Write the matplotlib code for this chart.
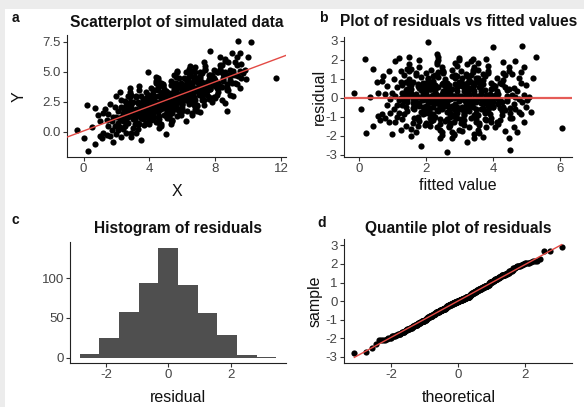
import numpy as np
import matplotlib
matplotlib.use("Agg")
import matplotlib.pyplot as plt
from matplotlib.patches import Rectangle
from statistics import NormalDist

# ---------------------------------------------------------------- data
sim_x = [
    -0.4,
    0.0, 0.2, 0.3, 0.5, 0.7, 0.7,
    0.9, 1.0, 1.0, 1.1, 1.2, 1.2, 1.3, 1.4, 1.4, 1.5, 1.5, 1.6, 1.6, 1.7, 1.7,
    1.8, 1.8, 1.9, 1.9, 2.0, 2.0, 2.0, 2.1, 2.1, 2.1, 2.2, 2.2, 2.2,
    2.3, 2.3, 2.3, 2.3, 2.4, 2.4, 2.4, 2.4, 2.5, 2.5, 2.5, 2.5,
    2.6, 2.6, 2.6, 2.6, 2.7, 2.7, 2.7, 2.7, 2.7, 2.7,
    2.8, 2.8, 2.8, 2.8, 2.8, 2.8,
    2.9, 2.9, 2.9, 2.9, 2.9, 2.9,
    3.0, 3.0, 3.0, 3.0, 3.0, 3.0,
    3.1, 3.1, 3.1, 3.1, 3.1, 3.1,
    3.2, 3.2, 3.2, 3.2, 3.2, 3.2,
    3.3, 3.3, 3.3, 3.3, 3.3, 3.3,
    3.4, 3.4, 3.4, 3.4, 3.4, 3.4,
    3.5, 3.5, 3.5, 3.5, 3.5, 3.5,
    3.6, 3.6, 3.6, 3.6, 3.6, 3.6,
    3.7, 3.7, 3.7, 3.7, 3.7, 3.7,
    3.8, 3.8, 3.8, 3.8, 3.8, 3.8, 3.8, 3.8, 3.8,
    3.9, 3.9, 3.9, 3.9, 3.9, 3.9, 3.9, 3.9, 3.9,
    4.0, 4.0, 4.0, 4.0, 4.0, 4.0, 4.0, 4.0, 4.0,
    4.1, 4.1, 4.1, 4.1, 4.1, 4.1, 4.1, 4.1,
    4.2, 4.2, 4.2, 4.2, 4.2, 4.2, 4.2, 4.2, 4.2,
    4.3, 4.3, 4.3, 4.3, 4.3, 4.3, 4.3, 4.3,
    4.4, 4.4, 4.4, 4.4, 4.4, 4.4, 4.4, 4.4, 4.4,
    4.5, 4.5, 4.5, 4.5, 4.5, 4.5, 4.5, 4.5,
    4.6, 4.6, 4.6, 4.6, 4.6, 4.6, 4.6, 4.6,
    4.7, 4.7, 4.7, 4.7, 4.7, 4.7, 4.7, 4.7,
    4.8, 4.8, 4.8, 4.8, 4.8, 4.8, 4.8, 4.8, 4.8,
    4.9, 4.9, 4.9, 4.9, 4.9, 4.9, 4.9, 4.9, 4.9,
    5.0, 5.0, 5.0, 5.0, 5.0, 5.0, 5.0, 5.0, 5.0,
    5.1, 5.1, 5.1, 5.1, 5.1, 5.1, 5.1, 5.1, 5.1,
    5.2, 5.2, 5.2, 5.2, 5.2, 5.2, 5.2, 5.2, 5.2,
    5.3, 5.3, 5.3, 5.3, 5.3, 5.3, 5.3, 5.3, 5.3,
    5.4, 5.4, 5.4, 5.4, 5.4, 5.4, 5.4, 5.4, 5.4,
    5.5, 5.5, 5.5, 5.5, 5.5, 5.5, 5.5, 5.5, 5.5,
    5.6, 5.6, 5.6, 5.6, 5.6, 5.6, 5.6, 5.6, 5.6,
    5.7, 5.7, 5.7, 5.7, 5.7, 5.7, 5.7, 5.7,
    5.8, 5.8, 5.8, 5.8, 5.8, 5.8, 5.8,
    5.9, 5.9, 5.9, 5.9, 5.9, 5.9, 5.9, 5.9,
    6.0, 6.0, 6.0, 6.0, 6.0, 6.0, 6.0, 6.0,
    6.1, 6.1, 6.1, 6.1, 6.1, 6.1, 6.1, 6.1,
    6.2, 6.2, 6.2, 6.2, 6.2, 6.2, 6.2, 6.2,
    6.3, 6.3, 6.3, 6.3, 6.3, 6.3, 6.3, 6.3,
    6.4, 6.4, 6.4, 6.4, 6.4, 6.4, 6.4, 6.4,
    6.5, 6.5, 6.5, 6.5, 6.5, 6.5, 6.5, 6.5,
    6.6, 6.6, 6.6, 6.6, 6.6, 6.6, 6.6, 6.6,
    6.7, 6.7, 6.7, 6.7, 6.7, 6.7, 6.7, 6.7,
    6.8, 6.8, 6.8, 6.8, 6.8, 6.8,
    6.9, 6.9, 6.9, 6.9, 6.9, 6.9,
    7.0, 7.0, 7.0, 7.0, 7.0, 7.0,
    7.1, 7.1, 7.1, 7.1, 7.1, 7.1,
    7.2, 7.2, 7.2, 7.2, 7.2, 7.2,
    7.3, 7.3, 7.3, 7.3, 7.3, 7.3,
    7.4, 7.4, 7.4, 7.4, 7.4, 7.4,
    7.5, 7.5, 7.5, 7.5, 7.5, 7.5,
    7.6, 7.6, 7.6, 7.6, 7.6, 7.6,
    7.7, 7.7, 7.7, 7.7, 7.7, 7.7,
    7.8, 7.8, 7.8, 7.8,
    7.9, 7.9, 7.9, 7.9,
    8.0, 8.0, 8.0, 8.0,
    8.1, 8.1, 8.1, 8.1,
    8.2, 8.2, 8.2, 8.2,
    8.3, 8.3, 8.3, 8.3,
    8.4, 8.4, 8.4, 8.4,
    8.5, 8.5, 8.5, 8.5,
    8.6, 8.6, 8.6, 8.6,
    8.7, 8.7, 8.7, 8.7,
    8.8, 8.8, 8.8, 8.9, 8.9, 8.9, 9.0, 9.0, 9.0, 9.1, 9.1,
    9.2, 9.2, 9.2, 9.3, 9.3, 9.3, 9.4, 9.4, 9.5, 9.5, 9.5,
    9.6, 9.6, 9.7,
    9.8, 9.9, 10.0, 10.2,
    11.7,
]

sim_y = [
    0.1,
    -0.5, 2.2, -1.65, 0.35, 1.95, -1.05,
    1.35, 0.85, -0.4, -0.55, -0.15, 1.55, 1.85, -0.3, 1.0, 0.45, 1.45, -0.4, 2.3, 0.85, 0.15,
    -0.9, 1.25, 2.05, 0.45, -0.2, 1.2, 3.0, 0.75, 1.7, 0.15, 3.3, 1.05, 0.4,
    2.05, -0.45, 1.25, 2.65, 0.9, 1.55, 0.2, 1.95, 0.5, 1.4, 2.55, 1.15,
    -0.1, 1.8, 0.9, 2.25, 1.35, 0.75, 2.95, 1.65, 1.9, 1.2,
    1.6, 2.2, 2.5, 2.9, 3.3, 3.65,
    -0.45, -0.1, 1.8, 2.0, 2.2, 3.05,
    0.3, 1.05, 1.35, 1.6, 1.7, 2.45,
    0.6, 1.05, 1.15, 1.5, 1.55, 1.6,
    -0.1, 1.3, 1.5, 1.9, 2.9, 3.0,
    0.25, 0.65, 0.75, 1.8, 2.35, 2.5,
    0.6, 1.4, 1.55, 2.3, 3.45, 3.8,
    -0.7, 1.1, 1.85, 2.25, 2.4, 2.95,
    1.05, 1.45, 1.8, 2.05, 2.1, 2.7,
    0.55, 1.15, 1.25, 2.0, 2.2, 2.45,
    0.7, 1.35, 1.6, 1.95, 2.05, 2.2, 2.38, 2.8, 3.3,
    4.97, 1.25, 1.3, 1.6, 1.85, 2.6, 2.9, 3.05, 3.1,
    0.65, 1.05, 1.3, 1.6, 1.95, 2.0, 2.55, 2.6, 2.7,
    0.95, 1.27, 1.95, 2.05, 2.25, 2.65, 2.85, 3.65,
    1.05, 1.35, 1.75, 2.2, 2.3, 2.35, 3.0, 3.08, 3.35,
    1.25, 2.0, 2.5, 2.5, 2.65, 2.9, 2.95, 3.45,
    4.6, 0.8, 1.7, 2.05, 2.25, 2.3, 2.45, 4.1, 4.2,
    1.65, 1.75, 2.35, 2.95, 3.45, 3.7, 4.35, 4.5,
    0.3, 0.75, 1.05, 1.3, 1.9, 2.0, 2.03, 2.25,
    0.5, 0.65, 1.9, 2.5, 2.65, 3.2, 3.9, 4.1,
    2.3, 2.4, 2.75, 2.9, 3.25, 3.3, 3.8, 3.9, 3.95,
    1.35, 2.15, 2.3, 2.4, 2.5, 2.95, 3.2, 3.43, 3.55,
    -0.2, 1.5, 1.9, 2.23, 2.4, 2.75, 3.15, 3.2, 3.4,
    1.15, 1.2, 1.95, 2.0, 2.2, 2.85, 2.9, 3.15, 3.35,
    1.3, 1.4, 1.7, 1.9, 2.65, 2.7, 2.9, 2.97, 3.15,
    0.65, 1.0, 1.87, 2.37, 2.75, 2.8, 3.25, 3.9, 4.25,
    0.85, 0.95, 1.55, 1.95, 2.25, 2.4, 2.8, 2.9, 2.9,
    1.85, 2.25, 2.35, 2.58, 3.6, 3.9, 3.95, 4.1, 4.7,
    1.85, 2.15, 2.35, 2.45, 2.95, 3.28, 3.5, 4.1, 4.6,
    1.3, 2.8, 2.85, 3.1, 3.65, 3.8, 4.95, 5.05,
    1.7, 1.9, 2.45, 4.45, 3.0, 3.05, 3.15,
    1.35, 2.55, 2.6, 3.1, 3.15, 3.7, 3.85, 4.1,
    1.7, 1.95, 2.22, 2.3, 2.4, 3.0, 3.5, 3.7,
    2.75, 2.9, 3.15, 3.25, 3.3, 3.35, 3.85, 4.45,
    0.9, 2.6, 2.93, 3.45, 3.65, 5.0, 4.0, 4.4,
    1.75, 2.6, 2.85, 3.15, 3.45, 3.5, 3.8, 4.25,
    2.3, 2.93, 3.1, 3.3, 5.25, 3.8, 4.15, 4.55,
    2.9, 3.15, 4.75, 3.3, 4.85, 4.1, 3.85, 5.45,
    1.35, 1.55, 2.55, 3.25, 3.67, 3.78, 4.1, 5.05,
    2.2, 2.4, 2.7, 2.9, 3.3, 3.4, 4.33, 4.55,
    1.85, 2.62, 4.6, 5.0, 5.4, 3.65,
    1.75, 2.15, 2.25, 3.6, 4.15, 4.43,
    3.05, 3.35, 3.85, 4.0, 4.25, 4.3,
    1.65, 3.15, 3.65, 4.45, 4.65, 4.95,
    2.65, 2.95, 3.0, 3.5, 4.15, 4.9,
    2.25, 2.65, 3.65, 3.75, 5.85, 3.95,
    3.2, 3.43, 3.7, 5.15, 5.25, 5.5,
    3.05, 3.4, 3.65, 3.8, 4.05, 4.12,
    2.7, 2.9, 4.0, 4.0, 4.4, 4.75,
    6.7, 3.55, 3.55, 3.8, 4.5, 4.7,
    2.5, 4.1, 4.2, 4.7,
    2.85, 4.1, 4.45, 5.15,
    2.8, 3.85, 3.9, 4.35,
    3.05, 3.65, 4.1, 5.0,
    3.35, 3.55, 4.05, 5.0,
    3.85, 5.25, 5.6, 6.2,
    2.6, 3.75, 4.95, 5.55,
    4.25, 4.35, 4.5, 4.85,
    2.35, 4.95, 5.9, 6.1,
    1.75, 3.45, 3.7, 4.0,
    3.5, 4.7, 5.8, 3.1, 4.3, 5.15, 4.1, 4.7, 6.6, 2.95, 5.1,
    4.05, 4.7, 5.8, 3.95, 5.6, 6.2, 4.65, 7.6, 3.65, 5.1, 6.55,
    4.5, 5.65, 4.9,
    5.15, 4.4, 6.2, 7.45,
    4.45,
]

a_xticks = [0, 4, 8, 12]
a_yticks = [0.0, 2.5, 5.0, 7.5]
b_xticks = [0, 2, 4, 6]
b_yticks = [-3, -2, -1, 0, 1, 2, 3]
c_xticks = [-2, 0, 2]
c_yticks = [0, 50, 100]
d_xticks = [-2, 0, 2]
d_yticks = [-3, -2, -1, 0, 1, 2, 3]
hist_binwidth = 0.63

titles = ["Scatterplot of simulated data", "Plot of residuals vs fitted values",
          "Histogram of residuals", "Quantile plot of residuals"]
panel_tags = ["a", "b", "c", "d"]

# ---------------------------------------------------------------- model
x = np.array(sim_x)
y = np.array(sim_y)
slope, intercept = np.polyfit(x, y, 1)
fitted = intercept + slope * x
resid = y - fitted

n = len(resid)
sample_q = np.sort(resid)
nd = NormalDist()
theo_q = np.array([nd.inv_cdf((i - 0.5) / n) for i in range(1, n + 1)])
q_y = np.quantile(resid, [0.25, 0.75])
q_x = np.array([nd.inv_cdf(0.25), nd.inv_cdf(0.75)])
qq_slope = (q_y[1] - q_y[0]) / (q_x[1] - q_x[0])
qq_int = q_y[0] - qq_slope * q_x[0]

lo = np.floor(resid.min() / hist_binwidth - 0.5)
hi = np.ceil(resid.max() / hist_binwidth - 0.5)
edges = (np.arange(lo, hi + 1) + 0.5) * hist_binwidth

# ---------------------------------------------------------------- figure
plt.rcParams['font.family'] = ['Liberation Sans', 'DejaVu Sans']
plt.rcParams['axes.unicode_minus'] = False
W, H = 584, 407
fig = plt.figure(figsize=(W / 100, H / 100), dpi=100)
fig.patch.set_facecolor('#ececec')
fig.add_artist(Rectangle((5 / W, 0), 1, 1 - 9 / H, transform=fig.transFigure,
                         facecolor='white', edgecolor='none', zorder=0))

RED = '#e34a45'
TICK_COL = '#444444'
PT = dict(s=20, c='black', linewidths=0, zorder=2)


def box(l, t, r, b):
    return [l / W, 1 - b / H, (r - l) / W, (b - t) / H]


def ftext(px, py, s, **kw):
    fig.text(px / W, 1 - py / H, s, **kw)


def classic(ax):
    ax.set_facecolor('none')
    for s in ('top', 'right'):
        ax.spines[s].set_visible(False)
    for s in ('left', 'bottom'):
        ax.spines[s].set_linewidth(0.8)
        ax.spines[s].set_color('#222222')
    ax.tick_params(length=3, width=0.8, color='#333333', labelsize=9.5,
                   labelcolor=TICK_COL, pad=1.5)


ax_a = fig.add_axes(box(67, 35, 286, 157))
ax_b = fig.add_axes(box(344, 37, 572, 157))
ax_c = fig.add_axes(box(70, 242, 286, 363))
ax_d = fig.add_axes(box(344, 239, 572, 363))
for ax in (ax_a, ax_b, ax_c, ax_d):
    classic(ax)

# a: scatter with fitted line
ax_a.scatter(x, y, **PT)
ax_a.set_xticks(a_xticks)
ax_a.set_yticks(a_yticks)
ax_a.set_yticklabels([f"{v:.1f}" for v in a_yticks])
ax_a.axline((0, intercept), slope=slope, color=RED, lw=1.0, zorder=3)

# b: residuals vs fitted
ax_b.scatter(fitted, resid, **PT)
ax_b.axhline(0, color=RED, lw=1.6, alpha=0.9, zorder=3)
ax_b.set_xticks(b_xticks)
ax_b.set_yticks(b_yticks)

# c: histogram
counts, _, _ = ax_c.hist(resid, bins=edges, color='#4f4f4f', edgecolor='none', zorder=2)
ax_c.set_ylim(-0.05 * counts.max(), 1.05 * counts.max())
ax_c.set_xticks(c_xticks)
ax_c.set_yticks(c_yticks)

# d: normal quantile plot
ax_d.scatter(theo_q, sample_q, **PT)
ax_d.plot([theo_q[0], theo_q[-1]], [qq_int + qq_slope * theo_q[0], qq_int + qq_slope * theo_q[-1]],
          color=RED, lw=1.0, zorder=3)
ax_d.set_xticks(d_xticks)
ax_d.set_yticks(d_yticks)

# titles, axis titles and panel tags
title_kw = dict(ha='center', va='center', fontsize=11.2, fontweight='bold', color='#111111')
ftext(176.5, 22, titles[0], **title_kw)
ftext(459, 22, titles[1], **title_kw)
ftext(178, 228, titles[2], **title_kw)
ftext(458, 228, titles[3], **title_kw)

lab_kw = dict(ha='center', va='center', fontsize=11.5, color='#111111')
ftext(176.5, 191, "X", **lab_kw)
ftext(19, 97, "Y", rotation=90, **lab_kw)
ftext(458, 186, "fitted value", **lab_kw)
ftext(319, 97, "residual", rotation=90, **lab_kw)
ftext(178, 398, "residual", **lab_kw)
ftext(459, 398, "theoretical", **lab_kw)
ftext(315, 301, "sample", rotation=90, **lab_kw)

tag_kw = dict(ha='center', va='center', fontsize=10, fontweight='bold', color='#111111')
ftext(15, 18, panel_tags[0], **tag_kw)
ftext(323, 18, panel_tags[1], **tag_kw)
ftext(15, 220, panel_tags[2], **tag_kw)
ftext(322, 223, panel_tags[3], **tag_kw)

fig.savefig("out.png", dpi=100, facecolor=fig.get_facecolor())
